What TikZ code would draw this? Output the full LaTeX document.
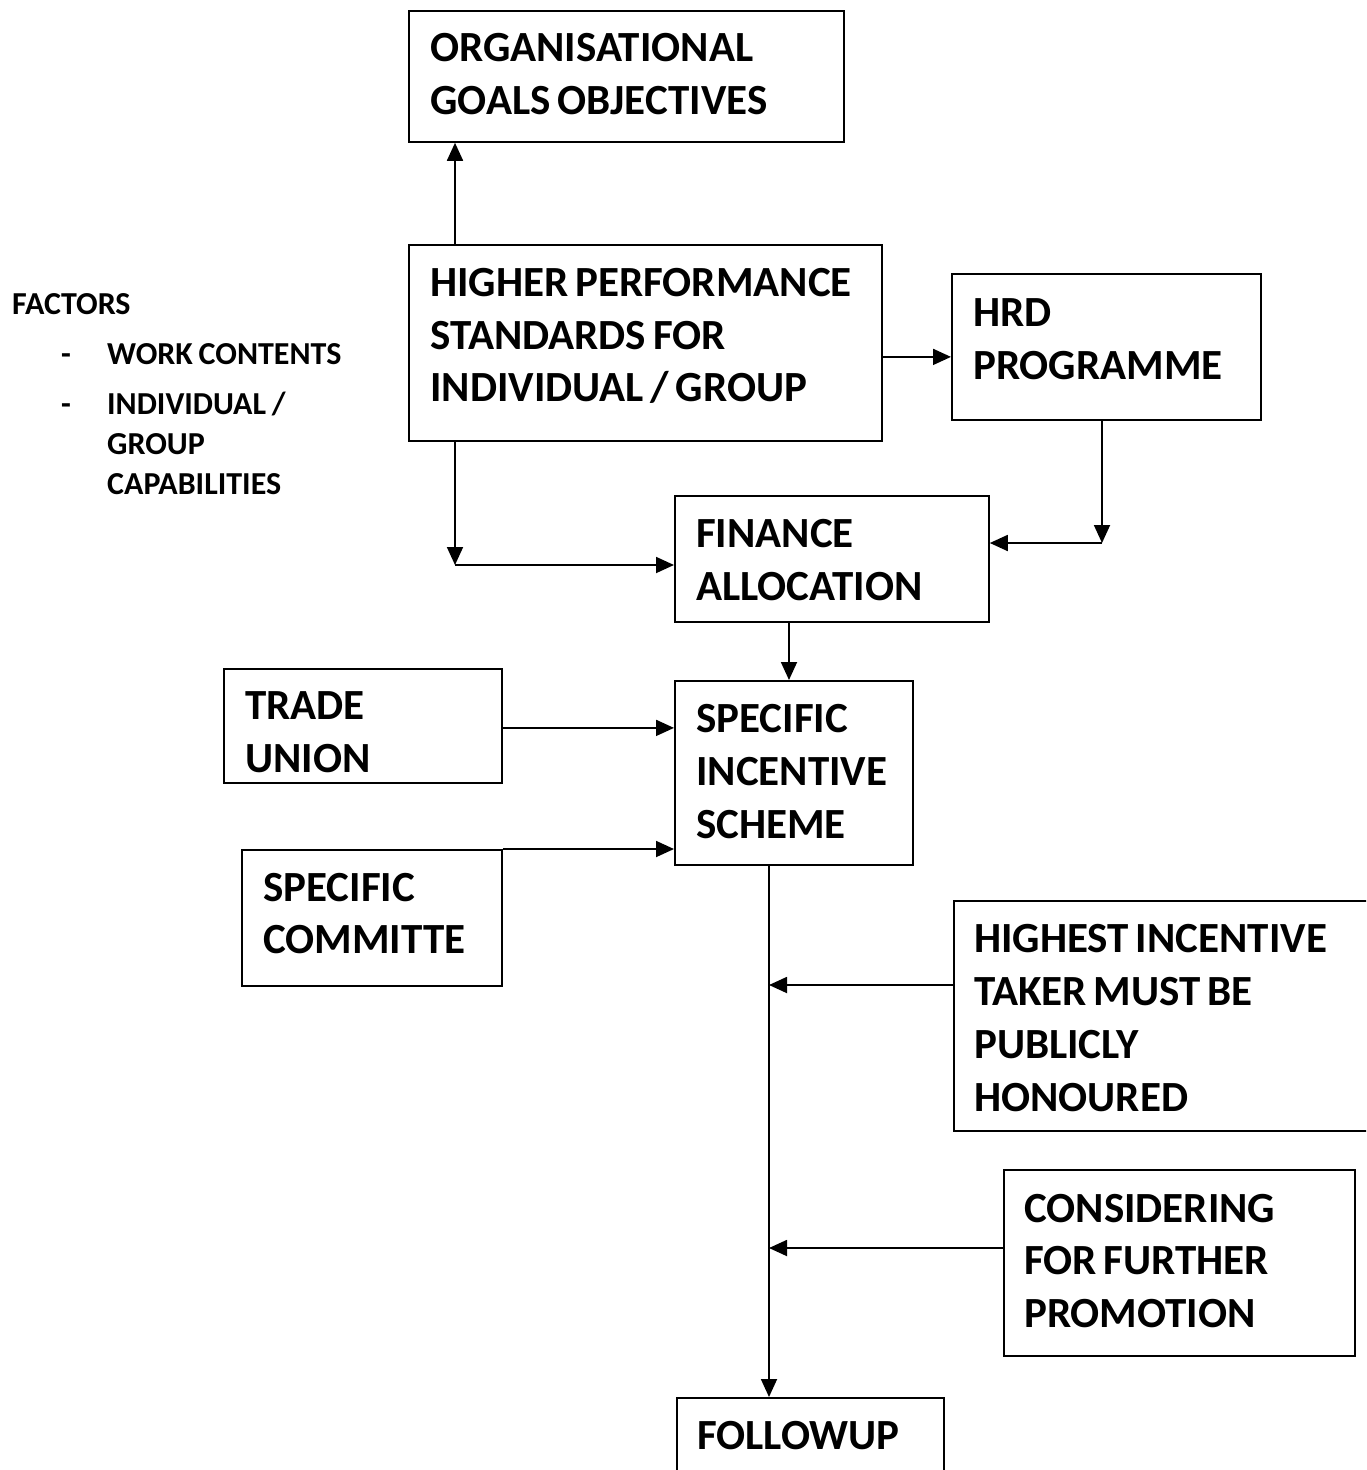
\documentclass[tikz,border=0pt]{standalone}
\usepackage{fontspec}
\setmainfont{Carlito}
\usetikzlibrary{arrows.meta}
\newcommand\bigf{\fontsize{43}{52.8}\selectfont\bfseries\spaceskip=0.16em\relax}
\newcommand\smallf{\fontsize{32}{40}\selectfont\bfseries\spaceskip=0.18em\relax}
\tikzset{
  blk/.style={draw, line width=1.8pt, anchor=north west, inner sep=0pt},
  txt/.style={anchor=west, align=left, inner sep=0pt, font=\bigf},
  arr/.style={line width=1.8pt, -{Triangle[length=18pt,width=16pt]}},
  lbl/.style={anchor=base west, font=\smallf, inner sep=0pt}
}
\begin{document}
\begin{tikzpicture}[x=1pt,y=-1pt]
\useasboundingbox (0,0) rectangle (1366,1470);
\clip (0,0) rectangle (1366,1470);
\fill[white] (0,0) rectangle (1366,1470);
% boxes
\node[blk, minimum width=435pt, minimum height=131pt] (org) at (408,10) {};
\node[blk, minimum width=473pt, minimum height=196pt] (hps) at (408,244) {};
\node[blk, minimum width=309pt, minimum height=146pt] (hrd) at (951,273) {};
\node[blk, minimum width=314pt, minimum height=126pt] (fin) at (674,495) {};
\node[blk, minimum width=238pt, minimum height=184pt] (sis) at (674,680) {};
\node[blk, minimum width=278pt, minimum height=114pt] (tu) at (223,668) {};
\node[blk, minimum width=260pt, minimum height=136pt] (sc) at (241,849) {};
\node[blk, minimum width=420pt, minimum height=230pt] (hi) at (953,900) {};
\node[blk, minimum width=351pt, minimum height=186pt] (co) at (1003,1169) {};
\node[blk, minimum width=267pt, minimum height=120pt] (fu) at (676,1397) {};
% box texts
\node[txt] (orgt) at (430,74) {ORGANISATIONAL\\GOALS OBJECTIVES};
\node[txt] (hpst) at (430,336) {HIGHER PERFORMANCE\\STANDARDS FOR\\INDIVIDUAL / GROUP};
\node[txt] (hrdt) at (973,339.5) {HRD\\PROGRAMME};
\node[txt] (fint) at (696,560) {FINANCE\\ALLOCATION};
\node[txt] (sist) at (696,771.5) {SPECIFIC\\INCENTIVE\\SCHEME};
\node[txt] (tut) at (245,732.5) {TRADE\\UNION};
\node[txt] (sct) at (263,913.5) {SPECIFIC\\COMMITTE};
\node[txt] (hit) at (974,1018) {HIGHEST INCENTIVE\\TAKER MUST BE\\PUBLICLY\\HONOURED};
\node[txt] (cot) at (1024,1261) {CONSIDERING\\FOR FURTHER\\PROMOTION};
\node[txt] (fut) at (697,1436) {FOLLOWUP};
% factors
\node[lbl] (fac) at (12,314) {FACTORS};
\node[lbl] (d1) at (61,364) {-};
\node[lbl] (f1) at (107,364) {WORK CONTENTS};
\node[lbl] (d2) at (61,414) {-};
\node[lbl] (f2) at (107,414) {INDIVIDUAL /};
\node[lbl] (f3) at (107,454) {GROUP};
\node[lbl] (f4) at (107,494) {CAPABILITIES};
% connectors
\coordinate (c1) at (455,565);
\coordinate (c2) at (1102,543);
\coordinate (c4) at (769,985);
\coordinate (c5) at (769,1248);
\draw[arr] ([xshift=47pt]hps.north west) -- ([xshift=47pt]org.south west);
\draw[arr] ([xshift=47pt]hps.south west) -- (c1);
\draw[arr] (c1) -- (c1 -| fin.west);
\draw[arr] ([yshift=-14pt]hps.east) -- ([yshift=-14pt]hps.east -| hrd.west);
\draw[arr] (hrd.south -| c2) -- (c2);
\draw[arr] (c2) -- (c2 -| fin.east);
\draw[arr] ([xshift=115pt]fin.south west) -- ([xshift=115pt]fin.south west |- sis.north);
\draw[arr] ([yshift=-2pt]tu.east) -- ([yshift=-2pt]tu.east -| sis.west);
\draw[arr] (sc.north east) -- (sc.north east -| sis.west);
\draw[arr] ([xshift=95pt]sis.south west) -- ([xshift=95pt]sis.south west |- fu.north);
\draw[arr] (hi.west |- c4) -- (c4);
\draw[arr] (co.west |- c5) -- (c5);
\end{tikzpicture}
\end{document}
